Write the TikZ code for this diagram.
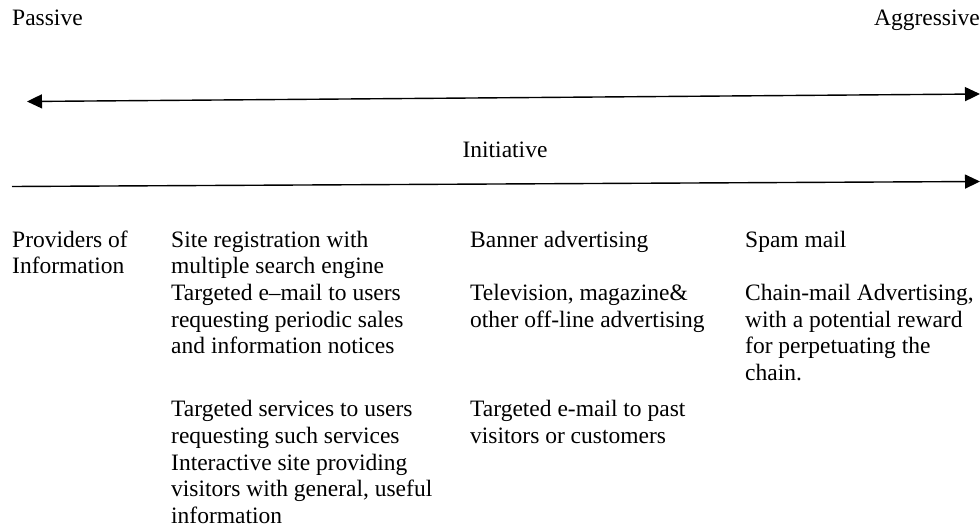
\documentclass[tikz,border=0pt]{standalone}
\usepackage{fontspec}
\setmainfont{Liberation Serif}
\usetikzlibrary{arrows.meta}

\begin{document}
\begin{tikzpicture}[>={Triangle[length=15pt,width=14pt]},x=1pt,y=-1pt]
\fontsize{23.5pt}{26.7pt}\selectfont
% multi-line nodes sit on the baseline of their last line
\tikzstyle{txt}=[anchor=base west,inner sep=0pt,align=left]
\tikzstyle{axis}=[line width=1.4pt]
	\useasboundingbox (0,0) rectangle (980,527);

	% the two scales
	\node[txt] (passive) at (12,26) {Passive};
	\node[txt,anchor=base east] (aggressive) at (980,26) {Aggressive};
	\coordinate (scaleL) at (27,101.5);
	\coordinate (scaleR) at (980,94);
	\draw[axis,<->] (scaleL) -- (scaleR);

	\node[txt,anchor=base] (initiative) at (505,157) {Initiative};
	\coordinate (initL) at (12,186.5);
	\coordinate (initR) at (980,181.5);
	\draw[axis,->] (initL) -- (initR);

	% columns
	\node[txt] (providers) at (12,273.7) {Providers of\\Information};

	\node[txt] (siteReg) at (171,353.8) {Site registration with\\multiple search engine\\Targeted e–mail to users\\requesting periodic sales\\and information notices};
	\node[txt] (services) at (171,523.5) {Targeted services to users\\requesting such services\\Interactive site providing\\visitors with general, useful\\information};

	\node[txt] (banner) at (470,247) {Banner advertising};
	\node[txt] (offline) at (470,327.1) {Television, magazine\&\\other off-line advertising};
	\node[txt] (pastMail) at (470,443.4) {Targeted e-mail to past\\visitors or customers};

	\node[txt] (spam) at (745,247) {Spam mail};
	\node[txt] (chain) at (745,380.5) {Chain-mail Advertising,\\with a potential reward\\for perpetuating the\\chain.};
\end{tikzpicture}
\end{document}
